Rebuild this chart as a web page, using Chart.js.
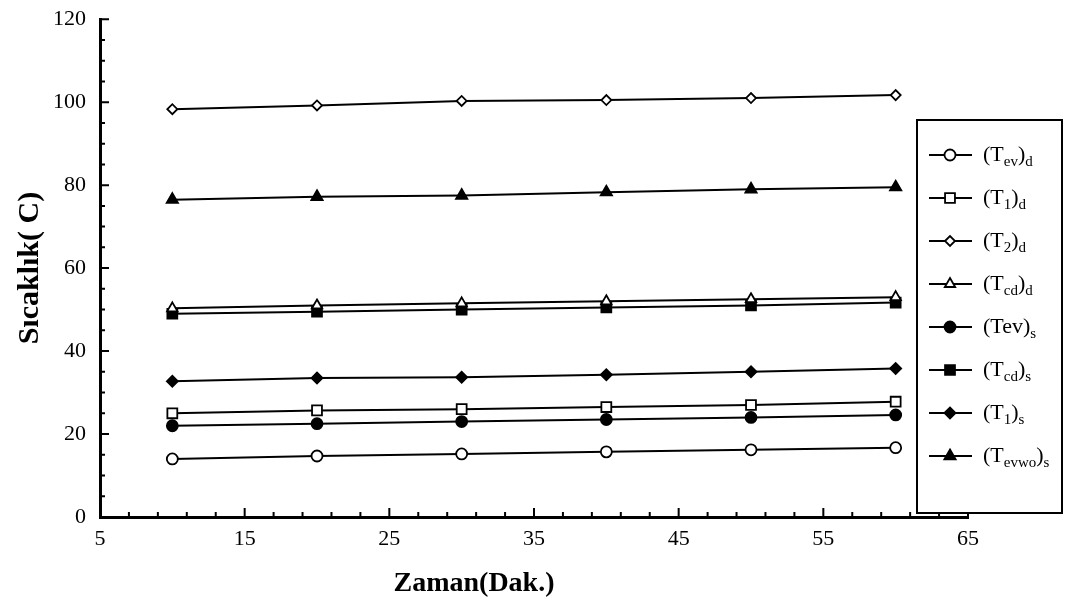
<!DOCTYPE html>
<html>
<head>
<meta charset="utf-8">
<script src="https://cdn.jsdelivr.net/npm/chart.js@4/dist/chart.umd.min.js"></script>
<style>
  html, body { margin: 0; padding: 0; background: #fff; }
  #wrap { width: 1071px; height: 606px; }
</style>
</head>
<body>
<div id="wrap"><canvas id="chart" width="1071" height="606"></canvas></div>
<script>
// time (min)
const zaman = [10, 20, 30, 40, 50, 60];

// temperatures (C)
const tEvD    = [14.0, 14.7, 15.2, 15.7, 16.2, 16.7];
const t1D     = [25.0, 25.7, 26.0, 26.5, 27.0, 27.8];
const t2D     = [98.3, 99.2, 100.3, 100.5, 101.0, 101.7];
const tCdD    = [50.3, 51.0, 51.5, 52.0, 52.5, 53.0];
const tEvS    = [22.0, 22.5, 23.0, 23.5, 24.0, 24.6];
const tCdS    = [49.0, 49.5, 50.0, 50.5, 51.0, 51.7];
const t1S     = [32.7, 33.5, 33.7, 34.3, 35.0, 35.8];
const tEvwoS  = [76.5, 77.2, 77.5, 78.3, 79.0, 79.5];

const legendLabels = ["(T_{ev})_{d}", "(T_{1})_{d}", "(T_{2})_{d}", "(T_{cd})_{d}",
                      "(Tev)_{s}", "(T_{cd})_{s}", "(T_{1})_{s}", "(T_{evwo})_{s}"];

const xTicks = [5, 15, 25, 35, 45, 55, 65];
const yTicks = [0, 20, 40, 60, 80, 100, 120];

const series = [tEvD, t1D, t2D, tCdD, tEvS, tCdS, t1S, tEvwoS];
const styles = [
    { pointStyle: "circle", radius: 5.5, filled: false },
    { pointStyle: "rect", radius: 7, filled: false },
    { pointStyle: "rectRot", radius: 5, filled: false },
    { pointStyle: "triangle", radius: 6, filled: false },
    { pointStyle: "circle", radius: 5.5, filled: true },
    { pointStyle: "rect", radius: 7, filled: true },
    { pointStyle: "rectRot", radius: 5.5, filled: true },
    { pointStyle: "triangle", radius: 6.5, filled: true }
];

const datasets = series.map((vals, i) => ({
    label: legendLabels[i],
    data: vals.map((v, j) => ({ x: zaman[j], y: v })),
    borderColor: "#000",
    borderWidth: 2,
    pointStyle: styles[i].pointStyle,
    pointRadius: styles[i].radius,
    pointBorderWidth: 1.8,
    pointBorderColor: "#000",
    pointBackgroundColor: styles[i].filled ? "#000" : "#fff",
    tension: 0
}));

// inward tick marks like the original plot
const tickPlugin = {
    id: "innerTicks",
    afterDraw(chart) {
        const { ctx, chartArea, scales } = chart;
        const x = scales.x, y = scales.y;
        ctx.save();
        ctx.strokeStyle = "#000";
        ctx.lineWidth = 2;
        ctx.beginPath();
        for (let v = 5; v <= 65; v += 2) {
            const px = x.getPixelForValue(v);
            const len = (v - 5) % 10 === 0 ? 9 : 5;
            ctx.moveTo(px, chartArea.bottom);
            ctx.lineTo(px, chartArea.bottom - len);
        }
        for (let v = 0; v <= 120; v += 5) {
            const py = y.getPixelForValue(v);
            const len = v % 20 === 0 ? 9 : 5;
            ctx.moveTo(chartArea.left, py);
            ctx.lineTo(chartArea.left + len, py);
        }
        ctx.stroke();

        // x axis title, sits left of the plot centre in the original
        ctx.fillStyle = "#000";
        ctx.font = "bold 28px 'Liberation Serif', serif";
        ctx.textAlign = "center";
        ctx.textBaseline = "middle";
        ctx.fillText("Zaman(Dak.)", 474, 584);
        ctx.restore();
    }
};

function drawSubText(ctx, text, x, y) {
    const parts = text.split(/(_\{[^}]*\})/).filter(s => s.length);
    let cx = x;
    parts.forEach(p => {
        if (p.startsWith("_{")) {
            const s = p.slice(2, -1);
            ctx.font = "15px 'Liberation Serif', serif";
            ctx.fillText(s, cx, y + 7);
            cx += ctx.measureText(s).width;
        } else {
            ctx.font = "22px 'Liberation Serif', serif";
            ctx.fillText(p, cx, y);
            cx += ctx.measureText(p).width;
        }
    });
}

// boxed legend drawn over the right part of the plot
const legendPlugin = {
    id: "boxLegend",
    afterDraw(chart) {
        const ctx = chart.ctx;
        const bx = 917, by = 120, bw = 145, bh = 393;
        ctx.save();
        ctx.fillStyle = "#fff";
        ctx.fillRect(bx, by, bw, bh);
        ctx.strokeStyle = "#000";
        ctx.lineWidth = 2;
        ctx.strokeRect(bx, by, bw, bh);
        chart.data.datasets.forEach((ds, i) => {
            const ly = by + 35 + i * 43;
            ctx.strokeStyle = "#000";
            ctx.lineWidth = 2;
            ctx.beginPath();
            ctx.moveTo(929, ly);
            ctx.lineTo(972, ly);
            ctx.stroke();
            ctx.fillStyle = ds.pointBackgroundColor;
            ctx.strokeStyle = "#000";
            ctx.lineWidth = 1.8;
            Chart.helpers.drawPoint(ctx, {
                pointStyle: ds.pointStyle,
                radius: ds.pointRadius,
                borderWidth: 1.8,
                rotation: 0
            }, 950, ly);
            ctx.fillStyle = "#000";
            ctx.textBaseline = "middle";
            ctx.textAlign = "left";
            drawSubText(ctx, ds.label, 983, ly);
        });
        ctx.restore();
    }
};

new Chart(document.getElementById("chart"), {
    type: "line",
    data: { datasets },
    options: {
        responsive: false,
        animation: false,
        layout: { padding: { left: 0, top: 13, right: 103, bottom: 0 } },
        plugins: { legend: { display: false }, tooltip: { enabled: false } },
        scales: {
            x: {
                type: "linear",
                min: 5,
                max: 65,
                afterBuildTicks: s => { s.ticks = xTicks.map(v => ({ value: v })); },
                afterFit: s => { s.height = 89; },
                grid: { display: false },
                border: { display: true, color: "#000", width: 3 },
                ticks: {
                    color: "#000",
                    padding: 1,
                    maxRotation: 0,
                    font: { family: "'Liberation Serif', serif", size: 22 }
                }
            },
            y: {
                min: 0,
                max: 120,
                afterBuildTicks: s => { s.ticks = yTicks.map(v => ({ value: v })); },
                afterFit: s => { s.width = 100; },
                grid: { display: false },
                border: { display: true, color: "#000", width: 3 },
                ticks: {
                    color: "#000",
                    padding: 6,
                    font: { family: "'Liberation Serif', serif", size: 22 }
                },
                title: {
                    display: true,
                    text: "Sıcaklık( C)",
                    color: "#000",
                    padding: { top: 12, bottom: 0 },
                    font: { family: "'Liberation Serif', serif", size: 30, weight: "bold" }
                }
            }
        }
    },
    plugins: [tickPlugin, legendPlugin]
});
</script>
</body>
</html>
